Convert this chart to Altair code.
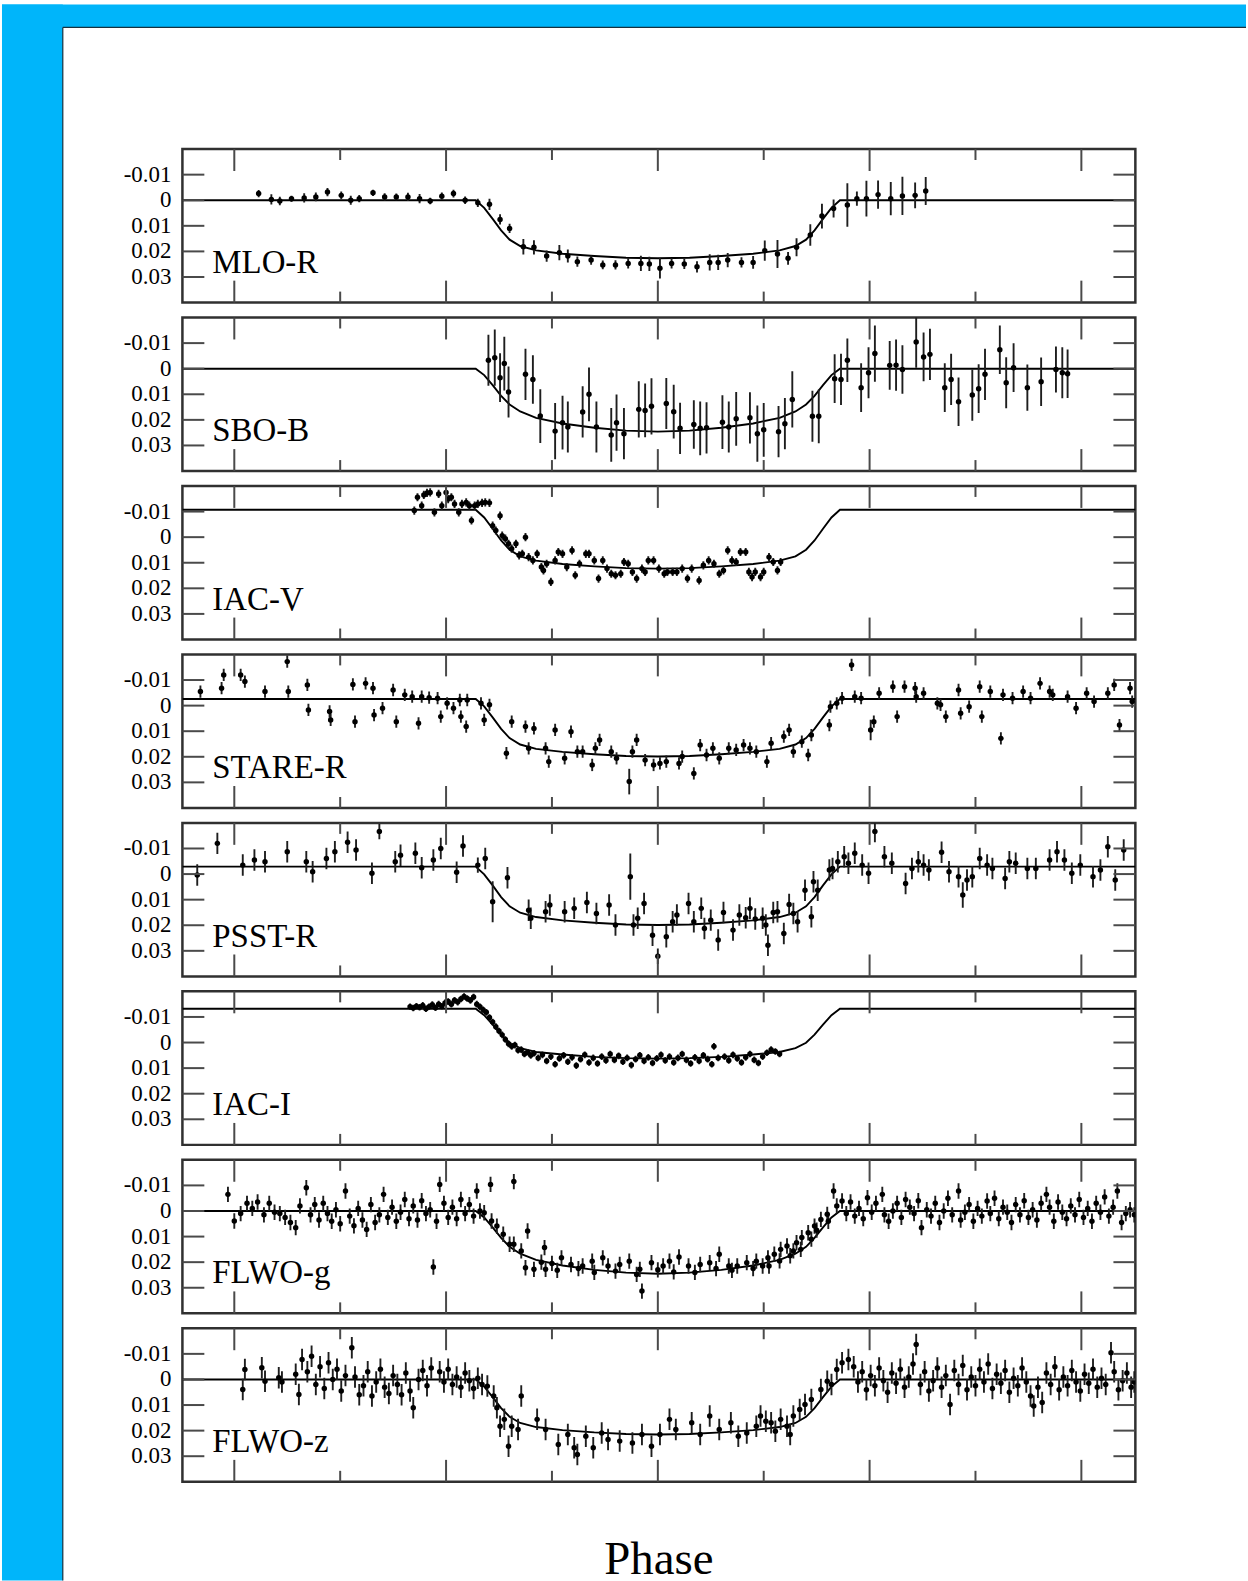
import altair as alt
import pandas as pd

# ---------------- axes / layout values ----------------
X_DOMAIN = [-0.0449, 0.0451]
Y_DOMAIN = [-0.02, 0.04]
X_MAJOR = [-0.04, -0.02, 0.0, 0.02, 0.04]
X_MINOR = [-0.03, -0.01, 0.01, 0.03]
Y_TICKS = [-0.01, 0.0, 0.01, 0.02, 0.03]
Y_TICK_LABELS = ["-0.01", "0", "0.01", "0.02", "0.03"]
PANELS = ["MLO-R", "SBO-B", "IAC-V", "STARE-R", "PSST-R", "IAC-I", "FLWO-g", "FLWO-z"]
X_TITLE = "Phase"

# ---------------- model curves ----------------
MODEL_PHASE = [-0.0449, -0.0172, -0.0164, -0.0156, -0.0148, -0.0140, -0.0130, -0.0115, -0.0090,
               -0.0060, -0.0030, 0.0, 0.0030, 0.0060, 0.0090, 0.0115, 0.0130, 0.0140, 0.0148,
               0.0156, 0.0164, 0.0172, 0.0451]
MODEL_MLO_R = [0, 0, 0.0030, 0.0073, 0.0118, 0.0154, 0.0179, 0.0196, 0.0209, 0.0218, 0.0225, 0.0227,
               0.0225, 0.0218, 0.0209, 0.0196, 0.0179, 0.0154, 0.0118, 0.0073, 0.0030, 0, 0]
MODEL_SBO_B = [0, 0, 0.0025, 0.0064, 0.0106, 0.0140, 0.0167, 0.0192, 0.0214, 0.0231, 0.0242, 0.0246,
               0.0242, 0.0231, 0.0214, 0.0192, 0.0167, 0.0140, 0.0106, 0.0064, 0.0025, 0, 0]
MODEL_IAC_V = [-0.0107, -0.0107, -0.0077, -0.0033, 0.0013, 0.0049, 0.0075, 0.0092, 0.0105, 0.0114,
               0.0121, 0.0123, 0.0121, 0.0114, 0.0105, 0.0092, 0.0075, 0.0049, 0.0013, -0.0033,
               -0.0077, -0.0107, -0.0107]
MODEL_STARE_R = [-0.0026, -0.0026, 0.0003, 0.0046, 0.0091, 0.0127, 0.0152, 0.0169, 0.0181, 0.0190,
                 0.0197, 0.0199, 0.0197, 0.0190, 0.0181, 0.0169, 0.0152, 0.0127, 0.0091, 0.0046,
                 0.0003, -0.0026, -0.0026]
MODEL_PSST_R = [-0.0029, -0.0029, 0.0001, 0.0044, 0.0090, 0.0126, 0.0151, 0.0168, 0.0181, 0.0190,
                0.0197, 0.0199, 0.0197, 0.0190, 0.0181, 0.0168, 0.0151, 0.0126, 0.0090, 0.0044,
                0.0001, -0.0029, -0.0029]
MODEL_IAC_I = [-0.0132, -0.0132, -0.0107, -0.0070, -0.0031, 0.0001, 0.0022, 0.0037, 0.0047, 0.0056,
               0.0061, 0.0063, 0.0061, 0.0056, 0.0047, 0.0037, 0.0022, 0.0001, -0.0031, -0.0070,
               -0.0107, -0.0132, -0.0132]
MODEL_FLWO_G = [0, 0, 0.0025, 0.0064, 0.0105, 0.0140, 0.0167, 0.0191, 0.0213, 0.0230, 0.0241, 0.0245,
                0.0241, 0.0230, 0.0213, 0.0191, 0.0167, 0.0140, 0.0105, 0.0064, 0.0025, 0, 0]
MODEL_FLWO_Z = [0, 0, 0.0028, 0.0069, 0.0112, 0.0146, 0.0170, 0.0186, 0.0198, 0.0207, 0.0213, 0.0215,
                0.0213, 0.0207, 0.0198, 0.0186, 0.0170, 0.0146, 0.0112, 0.0069, 0.0028, 0, 0]

# ---------------- observations: (phase, dmag[, error]) ----------------
MLO_R = [(-0.0377, -0.0026, 0.0014), (-0.0365, -0.0003, 0.0020), (-0.0357, 0.0003, 0.0017),
         (-0.0346, -0.0006, 0.0012), (-0.0334, -0.0009, 0.0018), (-0.0323, -0.0013, 0.0017),
         (-0.0312, -0.0032, 0.0016), (-0.0299, -0.0019, 0.0015), (-0.0290, 0.0000, 0.0018),
         (-0.0282, -0.0006, 0.0014), (-0.0269, -0.0029, 0.0012), (-0.0258, -0.0013, 0.0014),
         (-0.0247, -0.0013, 0.0013), (-0.0236, -0.0013, 0.0016), (-0.0225, -0.0006, 0.0018),
         (-0.0215, 0.0003, 0.0013), (-0.0204, -0.0016, 0.0014), (-0.0193, -0.0026, 0.0015),
         (-0.0182, 0.0000, 0.0015), (-0.0170, 0.0010, 0.0016), (-0.0159, 0.0016, 0.0022),
         (-0.0149, 0.0075, 0.0020), (-0.0140, 0.0110, 0.0018), (-0.0127, 0.0182, 0.0030),
         (-0.0117, 0.0184, 0.0028), (-0.0105, 0.0218, 0.0022), (-0.0093, 0.0205, 0.0030),
         (-0.0085, 0.0218, 0.0025), (-0.0076, 0.0240, 0.0020), (-0.0063, 0.0234, 0.0018),
         (-0.0052, 0.0253, 0.0017), (-0.0040, 0.0253, 0.0018), (-0.0028, 0.0247, 0.0020),
         (-0.0016, 0.0247, 0.0030), (-0.0008, 0.0249, 0.0028), (0.0002, 0.0266, 0.0040),
         (0.0013, 0.0247, 0.0020), (0.0025, 0.0249, 0.0020), (0.0037, 0.0260, 0.0022),
         (0.0049, 0.0243, 0.0032), (0.0057, 0.0243, 0.0030), (0.0066, 0.0234, 0.0028),
         (0.0079, 0.0243, 0.0020), (0.0090, 0.0243, 0.0025), (0.0101, 0.0197, 0.0040),
         (0.0113, 0.0210, 0.0055), (0.0123, 0.0227, 0.0025), (0.0131, 0.0184, 0.0035),
         (0.0144, 0.0136, 0.0042), (0.0155, 0.0062, 0.0048), (0.0166, 0.0032, 0.0035),
         (0.0179, 0.0019, 0.0085), (0.0188, -0.0006, 0.0028), (0.0197, -0.0006, 0.0070),
         (0.0208, -0.0022, 0.0055), (0.0220, -0.0006, 0.0065), (0.0231, -0.0017, 0.0075),
         (0.0243, -0.0019, 0.0050), (0.0253, -0.0036, 0.0055)]

SBO_B = [(-0.0160, -0.0033, 0.0100), (-0.0154, -0.0043, 0.0110), (-0.0149, 0.0035, 0.0095),
         (-0.0145, -0.0020, 0.0105), (-0.0141, 0.0091, 0.0100), (-0.0125, 0.0022, 0.0100),
         (-0.0118, 0.0042, 0.0095), (-0.0111, 0.0185, 0.0105), (-0.0097, 0.0244, 0.0110),
         (-0.0090, 0.0211, 0.0105), (-0.0085, 0.0228, 0.0100), (-0.0071, 0.0169, 0.0100),
         (-0.0065, 0.0100, 0.0105), (-0.0058, 0.0228, 0.0100), (-0.0044, 0.0259, 0.0105),
         (-0.0039, 0.0211, 0.0110), (-0.0032, 0.0254, 0.0100), (-0.0018, 0.0159, 0.0110),
         (-0.0012, 0.0163, 0.0105), (-0.0006, 0.0147, 0.0110), (0.0008, 0.0136, 0.0100),
         (0.0015, 0.0168, 0.0105), (0.0021, 0.0233, 0.0100), (0.0034, 0.0218, 0.0095),
         (0.0040, 0.0233, 0.0105), (0.0046, 0.0231, 0.0100), (0.0061, 0.0209, 0.0105),
         (0.0067, 0.0228, 0.0100), (0.0074, 0.0196, 0.0105), (0.0087, 0.0192, 0.0100),
         (0.0094, 0.0254, 0.0110), (0.0100, 0.0239, 0.0105), (0.0114, 0.0246, 0.0100),
         (0.0120, 0.0215, 0.0100), (0.0127, 0.0120, 0.0110), (0.0146, 0.0186, 0.0100),
         (0.0152, 0.0186, 0.0105), (0.0167, 0.0039, 0.0095), (0.0173, 0.0042, 0.0100),
         (0.0179, -0.0033, 0.0085), (0.0192, 0.0074, 0.0095), (0.0199, 0.0016, 0.0100),
         (0.0205, -0.0059, 0.0110), (0.0219, -0.0013, 0.0095), (0.0225, -0.0014, 0.0100),
         (0.0231, 0.0003, 0.0095), (0.0244, -0.0104, 0.0100), (0.0251, -0.0046, 0.0095),
         (0.0257, -0.0056, 0.0100), (0.0271, 0.0074, 0.0095), (0.0277, 0.0042, 0.0100),
         (0.0284, 0.0129, 0.0095), (0.0297, 0.0103, 0.0100), (0.0303, 0.0078, 0.0095),
         (0.0309, 0.0022, 0.0100), (0.0323, -0.0074, 0.0095), (0.0329, 0.0055, 0.0100),
         (0.0336, -0.0004, 0.0095), (0.0349, 0.0074, 0.0090), (0.0362, 0.0051, 0.0095),
         (0.0376, 0.0003, 0.0090), (0.0382, 0.0016, 0.0100), (0.0387, 0.0020, 0.0095)]

IAC_V = [(-0.0230, -0.0104), (-0.0227, -0.0156), (-0.0223, -0.0123), (-0.0221, -0.0165),
         (-0.0218, -0.0173), (-0.0215, -0.0175), (-0.0211, -0.0097), (-0.0207, -0.0169),
         (-0.0204, -0.0123), (-0.0200, -0.0175), (-0.0198, -0.0149), (-0.0195, -0.0156),
         (-0.0192, -0.0130), (-0.0188, -0.0097), (-0.0185, -0.0130), (-0.0181, -0.0136),
         (-0.0178, -0.0123), (-0.0176, -0.0065), (-0.0173, -0.0123), (-0.0170, -0.0130),
         (-0.0166, -0.0134), (-0.0163, -0.0136), (-0.0159, -0.0134), (-0.0156, -0.0045),
         (-0.0153, -0.0026), (-0.0149, -0.0084), (-0.0147, -0.0006), (-0.0144, 0.0006),
         (-0.0141, 0.0026), (-0.0138, 0.0045), (-0.0134, 0.0026), (-0.0131, 0.0071),
         (-0.0128, 0.0065), (-0.0125, 0.0000), (-0.0122, 0.0078), (-0.0118, 0.0091),
         (-0.0114, 0.0065), (-0.0110, 0.0117), (-0.0108, 0.0130), (-0.0105, 0.0104),
         (-0.0101, 0.0175), (-0.0097, 0.0091), (-0.0094, 0.0058), (-0.0090, 0.0065),
         (-0.0086, 0.0117), (-0.0081, 0.0052), (-0.0078, 0.0149), (-0.0074, 0.0104),
         (-0.0068, 0.0065), (-0.0065, 0.0065), (-0.0060, 0.0091), (-0.0056, 0.0162),
         (-0.0052, 0.0091), (-0.0048, 0.0123), (-0.0044, 0.0143), (-0.0040, 0.0149),
         (-0.0035, 0.0143), (-0.0032, 0.0097), (-0.0028, 0.0104), (-0.0024, 0.0136),
         (-0.0020, 0.0162), (-0.0015, 0.0123), (-0.0012, 0.0136), (-0.0009, 0.0091),
         (-0.0004, 0.0091), (0.0001, 0.0123), (0.0006, 0.0143), (0.0009, 0.0136),
         (0.0014, 0.0136), (0.0018, 0.0136), (0.0023, 0.0123), (0.0028, 0.0162),
         (0.0032, 0.0123), (0.0039, 0.0169), (0.0043, 0.0110), (0.0048, 0.0091),
         (0.0053, 0.0104), (0.0058, 0.0143), (0.0062, 0.0130), (0.0066, 0.0052),
         (0.0070, 0.0091), (0.0074, 0.0097), (0.0078, 0.0058), (0.0083, 0.0058),
         (0.0086, 0.0136), (0.0089, 0.0156), (0.0092, 0.0136), (0.0097, 0.0156),
         (0.0100, 0.0136), (0.0105, 0.0078), (0.0109, 0.0097), (0.0113, 0.0130),
         (0.0116, 0.0097)]
ERR_IAC_V = 0.0016

STARE_R = [(-0.0432, -0.0055), (-0.0412, -0.0068), (-0.0410, -0.0120), (-0.0394, -0.0120),
           (-0.0390, -0.0094), (-0.0371, -0.0055), (-0.0350, -0.0172), (-0.0349, -0.0055),
           (-0.0331, -0.0081), (-0.0330, 0.0017), (-0.0310, 0.0023), (-0.0309, 0.0056),
           (-0.0288, -0.0083), (-0.0286, 0.0063), (-0.0276, -0.0087), (-0.0269, -0.0068),
           (-0.0268, 0.0037), (-0.0260, 0.0010), (-0.0250, -0.0061), (-0.0247, 0.0063),
           (-0.0239, -0.0042), (-0.0232, -0.0035), (-0.0226, 0.0069), (-0.0223, -0.0035),
           (-0.0216, -0.0031), (-0.0208, -0.0029), (-0.0205, 0.0043), (-0.0199, -0.0009),
           (-0.0193, 0.0010), (-0.0187, -0.0022), (-0.0186, 0.0043), (-0.0181, 0.0082),
           (-0.0180, -0.0022), (-0.0167, -0.0009), (-0.0164, 0.0056), (-0.0159, -0.0003),
           (-0.0143, 0.0186), (-0.0138, 0.0063), (-0.0125, 0.0082), (-0.0122, 0.0167),
           (-0.0117, 0.0089), (-0.0106, 0.0167), (-0.0103, 0.0219), (-0.0097, 0.0095),
           (-0.0088, 0.0206), (-0.0082, 0.0102), (-0.0076, 0.0180), (-0.0071, 0.0180),
           (-0.0062, 0.0232), (-0.0059, 0.0167), (-0.0055, 0.0134), (-0.0044, 0.0180),
           (-0.0039, 0.0206), (-0.0027, 0.0297, 0.0050), (-0.0024, 0.0180), (-0.0020, 0.0134),
           (-0.0012, 0.0213), (-0.0004, 0.0232), (0.0002, 0.0226), (0.0008, 0.0219),
           (0.0020, 0.0226), (0.0023, 0.0199), (0.0034, 0.0265), (0.0040, 0.0154),
           (0.0046, 0.0193), (0.0052, 0.0167), (0.0058, 0.0206), (0.0067, 0.0167),
           (0.0074, 0.0173), (0.0081, 0.0154), (0.0087, 0.0167), (0.0093, 0.0180),
           (0.0103, 0.0219), (0.0107, 0.0147), (0.0119, 0.0121), (0.0124, 0.0095),
           (0.0128, 0.0180), (0.0136, 0.0141), (0.0142, 0.0193), (0.0145, 0.0115),
           (0.0162, 0.0076), (0.0163, 0.0004), (0.0169, -0.0009), (0.0174, -0.0029),
           (0.0183, -0.0159), (0.0186, -0.0035), (0.0192, -0.0029), (0.0201, 0.0095, 0.0040),
           (0.0204, 0.0063), (0.0209, -0.0048), (0.0222, -0.0074), (0.0226, 0.0043),
           (0.0233, -0.0074), (0.0243, -0.0068), (0.0244, -0.0035), (0.0251, -0.0048),
           (0.0264, -0.0009), (0.0267, -0.0003), (0.0272, 0.0043), (0.0284, -0.0061),
           (0.0286, 0.0030), (0.0294, 0.0004), (0.0304, -0.0074), (0.0306, 0.0043),
           (0.0314, -0.0055), (0.0324, 0.0128), (0.0326, -0.0042), (0.0335, -0.0029),
           (0.0345, -0.0055), (0.0352, -0.0029), (0.0361, -0.0087), (0.0370, -0.0055),
           (0.0373, -0.0042), (0.0387, -0.0035), (0.0395, 0.0010), (0.0405, -0.0048),
           (0.0412, -0.0016), (0.0425, -0.0048), (0.0431, -0.0081), (0.0436, 0.0076),
           (0.0446, -0.0068), (0.0448, -0.0016)]
ERR_STARE_R = 0.0024

PSST_R = [(-0.0435, 0.0004), (-0.0416, -0.0120), (-0.0392, -0.0035), (-0.0381, -0.0055),
          (-0.0371, -0.0048), (-0.0350, -0.0087), (-0.0332, -0.0048), (-0.0326, -0.0009),
          (-0.0313, -0.0061), (-0.0305, -0.0087), (-0.0293, -0.0124), (-0.0285, -0.0094),
          (-0.0270, -0.0003), (-0.0263, -0.0166, 0.0030), (-0.0248, -0.0048), (-0.0243, -0.0074),
          (-0.0229, -0.0081), (-0.0223, -0.0025), (-0.0212, -0.0055), (-0.0205, -0.0100),
          (-0.0190, -0.0007), (-0.0184, -0.0110), (-0.0170, -0.0035, 0.0030), (-0.0163, -0.0061),
          (-0.0156, 0.0108, 0.0080), (-0.0142, 0.0014), (-0.0122, 0.0141), (-0.0120, 0.0173),
          (-0.0106, 0.0147), (-0.0102, 0.0121), (-0.0088, 0.0147), (-0.0079, 0.0134),
          (-0.0067, 0.0111), (-0.0058, 0.0154), (-0.0046, 0.0121), (-0.0040, 0.0199),
          (-0.0026, 0.0010, 0.0090), (-0.0023, 0.0199), (-0.0019, 0.0173), (-0.0013, 0.0115),
          (-0.0005, 0.0239), (0.0000, 0.0321, 0.0030), (0.0008, 0.0245), (0.0014, 0.0186),
          (0.0018, 0.0160), (0.0029, 0.0115), (0.0034, 0.0186), (0.0041, 0.0134),
          (0.0044, 0.0213), (0.0050, 0.0180), (0.0057, 0.0258), (0.0062, 0.0150),
          (0.0071, 0.0219), (0.0077, 0.0160), (0.0083, 0.0171), (0.0087, 0.0134),
          (0.0092, 0.0176), (0.0099, 0.0173), (0.0102, 0.0199), (0.0104, 0.0278),
          (0.0109, 0.0150), (0.0113, 0.0147), (0.0119, 0.0232), (0.0124, 0.0119),
          (0.0128, 0.0154), (0.0132, 0.0186), (0.0139, 0.0063), (0.0145, 0.0167),
          (0.0147, 0.0030), (0.0151, 0.0063), (0.0162, -0.0016), (0.0165, -0.0022),
          (0.0170, -0.0048), (0.0176, -0.0068), (0.0180, -0.0042), (0.0186, -0.0081),
          (0.0193, -0.0035), (0.0199, -0.0003), (0.0205, -0.0166), (0.0214, -0.0068),
          (0.0221, -0.0042), (0.0234, 0.0037), (0.0240, -0.0022), (0.0246, -0.0048),
          (0.0251, -0.0035), (0.0256, -0.0016), (0.0268, -0.0085), (0.0275, -0.0009),
          (0.0284, 0.0010), (0.0288, 0.0082, 0.0050), (0.0292, 0.0023), (0.0297, 0.0010),
          (0.0304, -0.0061), (0.0311, -0.0035), (0.0316, -0.0022), (0.0328, 0.0017),
          (0.0332, -0.0048), (0.0338, -0.0042), (0.0349, -0.0022), (0.0357, -0.0022),
          (0.0370, -0.0055), (0.0377, -0.0087), (0.0384, -0.0055), (0.0391, -0.0003),
          (0.0399, -0.0035), (0.0411, 0.0010), (0.0418, -0.0016), (0.0425, -0.0107),
          (0.0432, 0.0023), (0.0440, -0.0094)]
ERR_PSST_R = 0.0042

IAC_I = [(-0.0234, -0.0140), (-0.0231, -0.0135), (-0.0228, -0.0142), (-0.0225, -0.0138),
         (-0.0222, -0.0145), (-0.0219, -0.0132), (-0.0216, -0.0140), (-0.0213, -0.0148),
         (-0.0210, -0.0136), (-0.0207, -0.0150), (-0.0204, -0.0142), (-0.0201, -0.0155),
         (-0.0198, -0.0160), (-0.0195, -0.0150), (-0.0192, -0.0165), (-0.0189, -0.0158),
         (-0.0186, -0.0170), (-0.0183, -0.0180), (-0.0180, -0.0172), (-0.0177, -0.0165),
         (-0.0174, -0.0178), (-0.0171, -0.0150), (-0.0168, -0.0140), (-0.0165, -0.0128),
         (-0.0162, -0.0118), (-0.0159, -0.0098), (-0.0156, -0.0080), (-0.0153, -0.0062),
         (-0.0150, -0.0045), (-0.0147, -0.0030), (-0.0144, -0.0012), (-0.0141, 0.0005),
         (-0.0138, 0.0015), (-0.0135, 0.0010), (-0.0132, 0.0030), (-0.0129, 0.0028),
         (-0.0126, 0.0045), (-0.0123, 0.0038), (-0.0120, 0.0050), (-0.0117, 0.0042),
         (-0.0113, 0.0060), (-0.0109, 0.0048), (-0.0105, 0.0072), (-0.0101, 0.0055),
         (-0.0097, 0.0085), (-0.0093, 0.0062), (-0.0089, 0.0050), (-0.0085, 0.0075),
         (-0.0081, 0.0058), (-0.0077, 0.0090), (-0.0073, 0.0065), (-0.0069, 0.0048),
         (-0.0065, 0.0078), (-0.0061, 0.0060), (-0.0057, 0.0082), (-0.0053, 0.0055),
         (-0.0049, 0.0070), (-0.0045, 0.0045), (-0.0041, 0.0068), (-0.0037, 0.0052),
         (-0.0033, 0.0075), (-0.0029, 0.0060), (-0.0025, 0.0088), (-0.0021, 0.0065),
         (-0.0017, 0.0050), (-0.0013, 0.0072), (-0.0009, 0.0058), (-0.0005, 0.0080),
         (-0.0001, 0.0062), (0.0003, 0.0048), (0.0007, 0.0070), (0.0011, 0.0055),
         (0.0015, 0.0078), (0.0019, 0.0060), (0.0023, 0.0045), (0.0027, 0.0068),
         (0.0031, 0.0082), (0.0035, 0.0058), (0.0039, 0.0072), (0.0043, 0.0050),
         (0.0047, 0.0065), (0.0051, 0.0085), (0.0053, 0.0015), (0.0057, 0.0060),
         (0.0063, 0.0055), (0.0067, 0.0070), (0.0071, 0.0048), (0.0075, 0.0062),
         (0.0079, 0.0078), (0.0083, 0.0058), (0.0087, 0.0045), (0.0091, 0.0068),
         (0.0095, 0.0080), (0.0099, 0.0055), (0.0103, 0.0040), (0.0107, 0.0028),
         (0.0111, 0.0035), (0.0115, 0.0045)]
ERR_IAC_I = 0.0013

FLWO_G = [(-0.0406, -0.0065), (-0.0400, 0.0039), (-0.0394, 0.0010), (-0.0388, -0.0030),
          (-0.0383, -0.0010), (-0.0378, -0.0035), (-0.0372, 0.0015), (-0.0367, -0.0030),
          (-0.0362, 0.0005), (-0.0357, 0.0010), (-0.0352, 0.0025), (-0.0347, 0.0045),
          (-0.0342, 0.0065), (-0.0338, -0.0020), (-0.0332, -0.0091), (-0.0328, 0.0015),
          (-0.0324, -0.0025), (-0.0320, 0.0035), (-0.0316, -0.0030), (-0.0312, 0.0010),
          (-0.0308, 0.0040), (-0.0304, -0.0005), (-0.0300, 0.0050), (-0.0295, -0.0078),
          (-0.0291, 0.0020), (-0.0287, 0.0058), (-0.0283, -0.0010), (-0.0279, 0.0035),
          (-0.0275, 0.0072), (-0.0271, -0.0025), (-0.0267, 0.0045), (-0.0263, 0.0015),
          (-0.0259, -0.0065), (-0.0255, 0.0025), (-0.0251, -0.0015), (-0.0247, 0.0040),
          (-0.0243, 0.0005), (-0.0239, -0.0045), (-0.0235, 0.0030), (-0.0231, -0.0020),
          (-0.0227, 0.0035), (-0.0223, -0.0040), (-0.0219, 0.0010), (-0.0215, -0.0005),
          (-0.0212, 0.0219), (-0.0209, 0.0040), (-0.0206, -0.0104), (-0.0202, -0.0030),
          (-0.0198, 0.0025), (-0.0194, -0.0015), (-0.0190, 0.0030), (-0.0186, -0.0045),
          (-0.0182, 0.0010), (-0.0178, -0.0025), (-0.0174, 0.0020), (-0.0171, -0.0078),
          (-0.0168, 0.0000), (-0.0164, 0.0007), (-0.0158, -0.0104), (-0.0157, 0.0039),
          (-0.0152, 0.0059), (-0.0146, 0.0091), (-0.0140, 0.0130), (-0.0136, -0.0115),
          (-0.0136, 0.0130), (-0.0129, 0.0156), (-0.0125, 0.0222), (-0.0123, 0.0078),
          (-0.0117, 0.0228), (-0.0110, 0.0200), (-0.0107, 0.0143), (-0.0106, 0.0228),
          (-0.0100, 0.0205), (-0.0095, 0.0232), (-0.0091, 0.0183), (-0.0082, 0.0209),
          (-0.0075, 0.0225), (-0.0071, 0.0215), (-0.0062, 0.0196), (-0.0060, 0.0240),
          (-0.0052, 0.0183), (-0.0047, 0.0215), (-0.0040, 0.0235), (-0.0036, 0.0209),
          (-0.0027, 0.0196), (-0.0020, 0.0248), (-0.0017, 0.0228), (-0.0015, 0.0313),
          (-0.0006, 0.0202), (0.0000, 0.0230), (0.0005, 0.0215), (0.0011, 0.0196),
          (0.0015, 0.0238), (0.0020, 0.0180), (0.0029, 0.0215), (0.0035, 0.0240),
          (0.0040, 0.0209), (0.0049, 0.0202), (0.0055, 0.0225), (0.0058, 0.0169),
          (0.0067, 0.0215), (0.0070, 0.0232), (0.0075, 0.0215), (0.0084, 0.0202),
          (0.0090, 0.0225), (0.0093, 0.0196), (0.0099, 0.0215), (0.0104, 0.0183),
          (0.0105, 0.0215), (0.0110, 0.0169), (0.0115, 0.0195), (0.0116, 0.0150),
          (0.0122, 0.0137), (0.0125, 0.0175), (0.0128, 0.0156), (0.0131, 0.0124),
          (0.0135, 0.0150), (0.0136, 0.0104), (0.0142, 0.0085), (0.0145, 0.0110),
          (0.0148, 0.0059), (0.0150, 0.0075), (0.0154, 0.0033), (0.0160, 0.0013),
          (0.0161, 0.0040), (0.0166, -0.0078), (0.0169, -0.0020), (0.0174, -0.0039),
          (0.0178, 0.0010), (0.0182, -0.0035), (0.0186, 0.0020), (0.0190, -0.0010),
          (0.0194, 0.0030), (0.0198, -0.0052), (0.0202, 0.0005), (0.0206, -0.0030),
          (0.0212, -0.0065), (0.0214, 0.0015), (0.0218, 0.0040), (0.0222, 0.0000),
          (0.0226, -0.0030), (0.0230, 0.0025), (0.0234, -0.0045), (0.0238, -0.0015),
          (0.0242, 0.0010), (0.0246, -0.0040), (0.0249, 0.0065), (0.0254, -0.0005),
          (0.0258, 0.0020), (0.0262, -0.0030), (0.0266, 0.0045), (0.0270, 0.0000),
          (0.0274, -0.0050), (0.0278, 0.0015), (0.0284, -0.0078), (0.0286, 0.0035),
          (0.0290, 0.0005), (0.0294, -0.0025), (0.0298, 0.0040), (0.0302, -0.0010),
          (0.0306, 0.0020), (0.0311, -0.0039), (0.0314, 0.0010), (0.0318, -0.0050),
          (0.0322, 0.0030), (0.0326, -0.0015), (0.0330, 0.0005), (0.0334, 0.0045),
          (0.0338, -0.0025), (0.0342, 0.0015), (0.0346, -0.0040), (0.0350, 0.0025),
          (0.0354, -0.0005), (0.0358, 0.0035), (0.0362, -0.0030), (0.0367, -0.0065),
          (0.0370, -0.0015), (0.0374, 0.0040), (0.0378, -0.0035), (0.0382, 0.0005),
          (0.0386, 0.0030), (0.0390, -0.0020), (0.0394, 0.0015), (0.0398, -0.0045),
          (0.0402, 0.0025), (0.0406, -0.0010), (0.0410, 0.0040), (0.0414, -0.0030),
          (0.0418, 0.0005), (0.0422, -0.0055), (0.0426, 0.0020), (0.0430, -0.0015),
          (0.0434, -0.0078), (0.0438, 0.0045), (0.0442, 0.0010), (0.0446, -0.0005),
          (0.0450, 0.0015)]
ERR_FLWO_G = 0.0030

FLWO_Z = [(-0.0392, 0.0039), (-0.0390, -0.0039), (-0.0374, -0.0046), (-0.0371, 0.0007),
          (-0.0358, -0.0007), (-0.0355, 0.0010), (-0.0342, -0.0020), (-0.0339, 0.0059),
          (-0.0336, -0.0078), (-0.0331, -0.0030), (-0.0327, -0.0091), (-0.0323, 0.0020),
          (-0.0319, -0.0050), (-0.0315, 0.0035), (-0.0311, -0.0065), (-0.0307, 0.0000),
          (-0.0303, -0.0040), (-0.0299, 0.0045), (-0.0295, -0.0015), (-0.0289, -0.0124),
          (-0.0286, -0.0010), (-0.0282, 0.0060), (-0.0278, 0.0025), (-0.0274, -0.0030),
          (-0.0270, 0.0065), (-0.0266, 0.0010), (-0.0262, -0.0040), (-0.0258, 0.0030),
          (-0.0254, 0.0055), (-0.0250, -0.0015), (-0.0246, 0.0020), (-0.0242, 0.0060),
          (-0.0238, -0.0025), (-0.0234, 0.0045), (-0.0231, 0.0111), (-0.0226, 0.0000),
          (-0.0222, -0.0035), (-0.0218, 0.0025), (-0.0214, -0.0045), (-0.0206, -0.0030),
          (-0.0202, 0.0010), (-0.0198, -0.0040), (-0.0194, 0.0020), (-0.0190, -0.0010),
          (-0.0186, 0.0030), (-0.0182, -0.0025), (-0.0178, 0.0005), (-0.0174, 0.0035),
          (-0.0170, -0.0005), (-0.0166, 0.0020), (-0.0161, 0.0026), (-0.0155, 0.0065),
          (-0.0152, 0.0111), (-0.0149, 0.0183), (-0.0145, 0.0156), (-0.0141, 0.0261),
          (-0.0138, 0.0183), (-0.0132, 0.0196), (-0.0129, 0.0065), (-0.0114, 0.0156),
          (-0.0106, 0.0196), (-0.0094, 0.0254), (-0.0085, 0.0215), (-0.0079, 0.0267),
          (-0.0076, 0.0293), (-0.0068, 0.0222), (-0.0061, 0.0267), (-0.0053, 0.0209),
          (-0.0047, 0.0235), (-0.0036, 0.0241), (-0.0024, 0.0248), (-0.0015, 0.0215),
          (-0.0006, 0.0261), (0.0002, 0.0215), (0.0011, 0.0156), (0.0017, 0.0196),
          (0.0032, 0.0169), (0.0040, 0.0215), (0.0049, 0.0143), (0.0058, 0.0196),
          (0.0069, 0.0169), (0.0076, 0.0222), (0.0084, 0.0209), (0.0093, 0.0183),
          (0.0097, 0.0143), (0.0102, 0.0163), (0.0107, 0.0169), (0.0111, 0.0202),
          (0.0116, 0.0156), (0.0122, 0.0183), (0.0125, 0.0215), (0.0128, 0.0143),
          (0.0134, 0.0117), (0.0139, 0.0098), (0.0145, 0.0078), (0.0154, 0.0039),
          (0.0160, 0.0007), (0.0164, 0.0020), (0.0169, -0.0039), (0.0174, -0.0065),
          (0.0180, -0.0078), (0.0185, -0.0050), (0.0189, 0.0010), (0.0193, -0.0030),
          (0.0197, 0.0040), (0.0201, -0.0015), (0.0205, 0.0025), (0.0209, -0.0045),
          (0.0213, 0.0005), (0.0217, 0.0050), (0.0221, -0.0025), (0.0225, 0.0015),
          (0.0229, -0.0040), (0.0233, 0.0030), (0.0237, -0.0010), (0.0241, -0.0060),
          (0.0244, -0.0137), (0.0248, 0.0020), (0.0252, -0.0030), (0.0256, 0.0045),
          (0.0260, 0.0005), (0.0264, -0.0045), (0.0268, 0.0030), (0.0272, -0.0015),
          (0.0276, 0.0098), (0.0280, -0.0035), (0.0284, 0.0020), (0.0288, -0.0055),
          (0.0292, 0.0040), (0.0296, -0.0010), (0.0300, 0.0025), (0.0304, -0.0040),
          (0.0308, 0.0010), (0.0312, -0.0060), (0.0316, 0.0035), (0.0320, -0.0020),
          (0.0324, 0.0015), (0.0328, -0.0035), (0.0332, 0.0050), (0.0336, -0.0005),
          (0.0340, 0.0025), (0.0344, -0.0045), (0.0348, 0.0010), (0.0352, 0.0065),
          (0.0355, 0.0104), (0.0359, 0.0030), (0.0363, 0.0090), (0.0367, -0.0025),
          (0.0371, 0.0020), (0.0375, -0.0050), (0.0379, 0.0040), (0.0383, -0.0010),
          (0.0387, 0.0025), (0.0391, -0.0035), (0.0395, 0.0010), (0.0399, 0.0045),
          (0.0403, -0.0020), (0.0407, 0.0015), (0.0411, -0.0040), (0.0415, 0.0030),
          (0.0419, -0.0005), (0.0423, 0.0020), (0.0428, -0.0104), (0.0431, -0.0030),
          (0.0435, 0.0040), (0.0439, 0.0005), (0.0443, -0.0025), (0.0447, 0.0030),
          (0.0450, 0.0010)]
ERR_FLWO_Z = 0.0042

SERIES = [
    (MLO_R, MODEL_MLO_R, 0.0020),
    (SBO_B, MODEL_SBO_B, 0.0100),
    (IAC_V, MODEL_IAC_V, ERR_IAC_V),
    (STARE_R, MODEL_STARE_R, ERR_STARE_R),
    (PSST_R, MODEL_PSST_R, ERR_PSST_R),
    (IAC_I, MODEL_IAC_I, ERR_IAC_I),
    (FLWO_G, MODEL_FLWO_G, ERR_FLWO_G),
    (FLWO_Z, MODEL_FLWO_Z, ERR_FLWO_Z),
]

# ---------------- style ----------------
W, H = 956, 154
SERIF = "Liberation Serif"
BLUE = "#00B5FA"
TICK_COLOR = "#4a4a4a"

xs = alt.Scale(domain=X_DOMAIN, nice=False, zero=False)
ys = alt.Scale(domain=Y_DOMAIN, reverse=True, nice=False, zero=False)
X_ENC = alt.X("phase:Q", scale=xs, axis=None)


def one_row():
    return alt.Data(values=[{"k": 1}])


def panel(idx, name, pts, model, default_err):
    rows = []
    for p in pts:
        err = p[2] if len(p) > 2 else default_err
        rows.append({"phase": p[0], "dmag": p[1], "lo": p[1] - err, "hi": p[1] + err})
    df = pd.DataFrame(rows)
    mdf = pd.DataFrame({"phase": MODEL_PHASE, "dmag": model})
    ytk = pd.DataFrame({"dmag": Y_TICKS, "label": Y_TICK_LABELS})
    xmaj = pd.DataFrame({"phase": X_MAJOR})
    xmin = pd.DataFrame({"phase": X_MINOR})
    Y_ENC = alt.Y("dmag:Q", scale=ys, axis=None)

    layers = []
    if idx == 0:
        # page decoration: blue strips at left/top and the thin edge of the white sheet
        layers.append(alt.Chart(one_row()).mark_rect(color=BLUE).encode(
            x=alt.value(-181), x2=alt.value(-120), y=alt.value(-145), y2=alt.value(1436)))
        layers.append(alt.Chart(one_row()).mark_rect(color=BLUE).encode(
            x=alt.value(-181), x2=alt.value(1067), y=alt.value(-145), y2=alt.value(-122)))
        layers.append(alt.Chart(one_row()).mark_rule(color="#17303d", strokeWidth=1.2).encode(
            x=alt.value(-120), y=alt.value(-122), y2=alt.value(1436)))
        layers.append(alt.Chart(one_row()).mark_rule(color="#17303d", strokeWidth=1.2).encode(
            x=alt.value(-120), x2=alt.value(1067), y=alt.value(-122)))

    layers.append(alt.Chart(mdf).mark_line(color="black", strokeWidth=1.9, clip=True).encode(
        x=X_ENC, y=Y_ENC))
    layers.append(alt.Chart(df).mark_rule(color="#1e1e1e", strokeWidth=1.9, clip=True).encode(
        x=X_ENC, y=alt.Y("lo:Q", scale=ys, axis=None), y2="hi:Q"))
    layers.append(alt.Chart(df).mark_circle(color="black", size=30, opacity=1, clip=True).encode(
        x=X_ENC, y=Y_ENC))

    # inward ticks
    for x0, x1 in [(0, 22), (W - 22, W)]:
        layers.append(alt.Chart(ytk).mark_rule(color=TICK_COLOR, strokeWidth=2).encode(
            y=Y_ENC, x=alt.value(x0), x2=alt.value(x1)))
    for data, y0, y1 in [(xmaj, 0, 22), (xmin, 0, 11), (xmaj, H - 22, H), (xmin, H - 11, H)]:
        layers.append(alt.Chart(data).mark_rule(color=TICK_COLOR, strokeWidth=2).encode(
            x=X_ENC, y=alt.value(y0), y2=alt.value(y1)))

    # y tick labels
    layers.append(alt.Chart(ytk).mark_text(
        font=SERIF, fontSize=23, align="right", baseline="middle", color="black").encode(
        y=Y_ENC, x=alt.value(-11), text="label:N"))

    layers.append(alt.Chart(alt.Data(values=[{"t": name}])).mark_text(
        font=SERIF, fontSize=33, align="left", baseline="alphabetic", color="black").encode(
        text="t:N", x=alt.value(30), y=alt.value(124)))

    if idx == len(PANELS) - 1:
        layers.append(alt.Chart(alt.Data(values=[{"t": X_TITLE}])).mark_text(
            font=SERIF, fontSize=47, align="center", baseline="alphabetic", color="black").encode(
            text="t:N", x=alt.value(478), y=alt.value(246)))

    return alt.layer(*layers).properties(width=W, height=H)


panels = [panel(i, PANELS[i], s[0], s[1], s[2]) for i, s in enumerate(SERIES)]

chart = alt.vconcat(*panels, spacing=15, bounds="flush").configure_view(
    stroke="#303030", strokeWidth=2.5
).properties(
    padding=0, background="white", autosize=alt.AutoSizeParams(type="pad")
)

chart.save("out.html", embed_options={"renderer": "svg", "actions": False})
